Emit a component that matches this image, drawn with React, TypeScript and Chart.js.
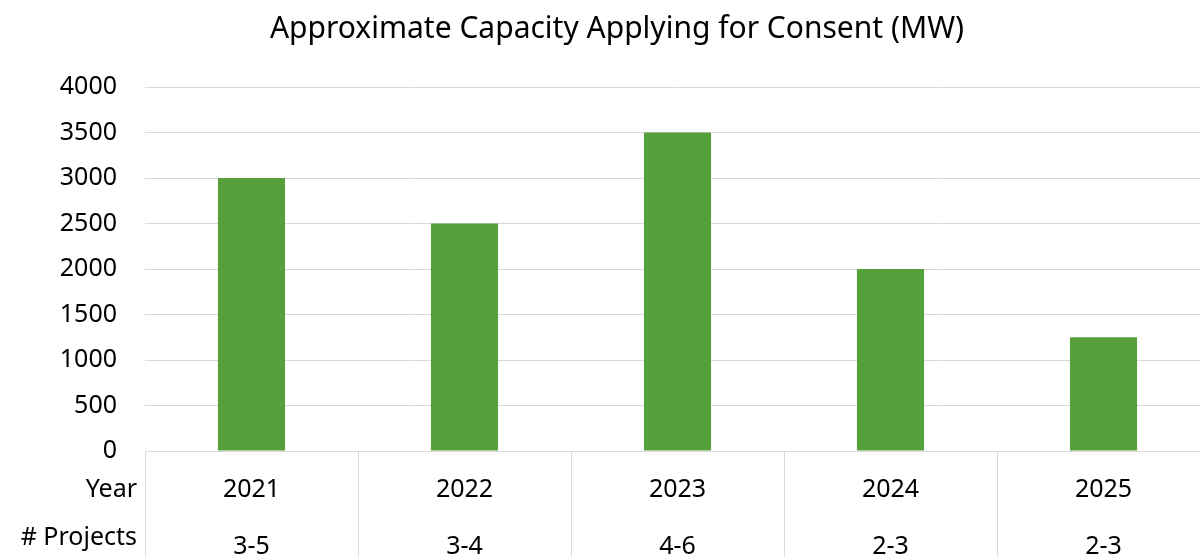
import React, { useEffect, useRef } from "react";
import { Chart, registerables } from "chart.js";

Chart.register(...registerables);

const title = "Approximate Capacity Applying for Consent (MW)";
const years = ["2021", "2022", "2023", "2024", "2025"];
const projects = ["3-5", "3-4", "4-6", "2-3", "2-3"];
const capacityMW = [3000, 2500, 3500, 2000, 1250];
const rowLabels = ["Year", "# Projects"];
const yTicks = [0, 500, 1000, 1500, 2000, 2500, 3000, 3500, 4000];

const FONT = "'Noto Sans', 'Open Sans', sans-serif";
const GRID = "#d9d9d9";
const LABEL_SIZE = 25;
const LINE_H = 57;
const TICK_PAD = 10;
const ROW_LABEL_GAP = 48;

const tablePlugin = {
  id: "tablePlugin",
  afterDraw(chart: any) {
    const { ctx, chartArea } = chart;
    const xs = chart.scales.x;
    const n = years.length;
    const step = (xs.right - xs.left) / n;
    ctx.save();
    ctx.strokeStyle = GRID;
    ctx.lineWidth = 1;
    for (let i = 0; i <= n; i++) {
      const x = Math.round(xs.left + i * step) + 0.5;
      ctx.beginPath();
      ctx.moveTo(x, chartArea.bottom);
      ctx.lineTo(x, chart.height);
      ctx.stroke();
    }
    ctx.fillStyle = "#000000";
    ctx.font = `${LABEL_SIZE}px ${FONT}`;
    ctx.textAlign = "right";
    ctx.textBaseline = "middle";
    rowLabels.forEach((t, i) => {
      const y = chartArea.bottom + TICK_PAD + LINE_H / 2 + i * ROW_LABEL_GAP;
      ctx.fillText(t, xs.left - 8, y);
    });
    ctx.restore();
  },
};

export default function App() {
  const ref = useRef<HTMLCanvasElement | null>(null);
  useEffect(() => {
    if (!ref.current) return;
    const chart = new Chart(ref.current, {
      type: "bar",
      data: {
        labels: years.map((y, i) => [y, projects[i]]),
        datasets: [
          {
            data: capacityMW,
            backgroundColor: "#55A03B",
            borderWidth: 0,
            barPercentage: 0.315,
            categoryPercentage: 1,
          },
        ],
      },
      options: {
        animation: false,
        responsive: false,
        maintainAspectRatio: false,
        layout: { padding: { left: 24, right: 24, top: 0, bottom: 0 } },
        plugins: {
          legend: { display: false },
          tooltip: { enabled: false },
          title: {
            display: true,
            text: title,
            color: "#000000",
            font: { family: FONT, size: 30, weight: "normal", lineHeight: 1.2 },
            padding: { top: 11.5, bottom: 39.5 },
          },
        },
        scales: {
          x: {
            grid: { display: false, drawTicks: false },
            border: { display: true, color: GRID, width: 1 },
            ticks: {
              color: "#000000",
              font: { family: FONT, size: LABEL_SIZE, lineHeight: LINE_H / LABEL_SIZE },
              padding: TICK_PAD,
              maxRotation: 0,
              autoSkip: false,
            },
            afterFit(scale: any) {
              scale.height = 129;
            },
          },
          y: {
            min: 0,
            max: 4000,
            afterBuildTicks(scale: any) {
              scale.ticks = yTicks.map((v) => ({ value: v }));
            },
            grid: { color: GRID, lineWidth: 1, drawTicks: false },
            border: { display: false },
            ticks: {
              color: "#000000",
              font: { family: FONT, size: LABEL_SIZE },
              padding: 28,
              callback: (v: any) => String(v),
            },
            afterFit(scale: any) {
              scale.width = 121;
            },
          },
        },
      },
      plugins: [tablePlugin],
    } as any);
    return () => chart.destroy();
  }, []);
  return (
    <div style={{ position: "fixed", left: 0, top: 0, width: 1234, height: 580, background: "#fff" }}>
      <canvas ref={ref} width={1234} height={580} style={{ display: "block" }} />
    </div>
  );
}
